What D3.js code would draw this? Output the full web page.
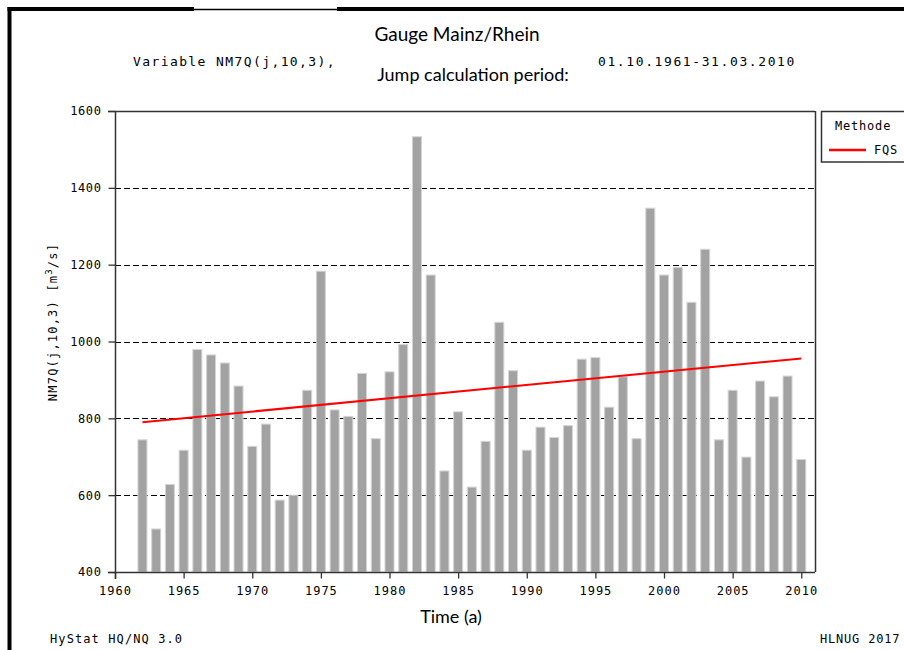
<!DOCTYPE html>
<html>
<head>
<meta charset="utf-8">
<script src="https://cdn.jsdelivr.net/npm/d3@7"></script>
<style>
  html, body { margin: 0; padding: 0; background: #fff; }
  svg { display: block; }
  .mono { font-family: "DejaVu Sans Mono", monospace; fill: #000; }
  .cal { font-family: Lato, "Open Sans", sans-serif; fill: #000; }
</style>
</head>
<body>
<svg id="chart" width="904" height="650"></svg>
<script>
// ---- data ----
const years = [1962,1963,1964,1965,1966,1967,1968,1969,1970,1971,1972,1973,1974,1975,1976,1977,1978,1979,1980,1981,
               1982,1983,1984,1985,1986,1987,1988,1989,1990,1991,1992,1993,1994,1995,1996,1997,1998,1999,2000,2001,
               2002,2003,2004,2005,2006,2007,2008,2009,2010];
const nm7q  = [744,512,628,717,979,965,944,884,727,785,587,600,873,1183,822,805,917,747,921,992,
               1533,1173,663,817,621,740,1050,924,717,777,750,781,954,958,829,908,747,1347,1173,1193,
               1102,1240,744,873,699,897,856,910,693];
const trendYears  = [1962, 2010];
const trendValues = [790, 956];
const xTicks = [1960,1965,1970,1975,1980,1985,1990,1995,2000,2005,2010];
const yTicks = [400,600,800,1000,1200,1400,1600];
const gridValues = [600,800,1000,1200,1400];
const legendLabel = "FQS";

// ---- layout ----
const svg = d3.select("#chart");
const L = 115, R = 815, T = 111, B = 572;
const x = d3.scaleLinear().domain([1960, 2011]).range([L, R]);
const y = d3.scaleLinear().domain([400, 1600]).range([B, T]);

// outer frame
svg.append("line").attr("x1", 9.5).attr("x2", 9.5).attr("y1", 7).attr("y2", 650)
  .attr("stroke", "#000").attr("stroke-width", 4);
svg.append("line").attr("x1", 7.5).attr("x2", 194).attr("y1", 9).attr("y2", 9)
  .attr("stroke", "#000").attr("stroke-width", 4);
svg.append("line").attr("x1", 194).attr("x2", 337).attr("y1", 9.5).attr("y2", 9.5)
  .attr("stroke", "#000").attr("stroke-width", 1.5);
svg.append("line").attr("x1", 337).attr("x2", 904).attr("y1", 9).attr("y2", 9)
  .attr("stroke", "#000").attr("stroke-width", 4);

// header texts
svg.append("text").attr("class", "cal").attr("x", 457).attr("y", 41)
  .attr("text-anchor", "middle").style("font-size", "19px").text("Gauge Mainz/Rhein");
svg.append("text").attr("class", "cal").attr("x", 473).attr("y", 81)
  .attr("text-anchor", "middle").style("font-size", "18px").text("Jump calculation period:");
svg.append("text").attr("class", "mono").attr("x", 133).attr("y", 66)
  .style("font-size", "13px").style("letter-spacing", "1.4px").text("Variable NM7Q(j,10,3),");
svg.append("text").attr("class", "mono").attr("x", 598).attr("y", 66)
  .style("font-size", "13px").style("letter-spacing", "1.6px").text("01.10.1961-31.03.2010");

// gridlines
svg.append("g").selectAll("line").data(gridValues).join("line")
  .attr("x1", L).attr("x2", R)
  .attr("y1", d => Math.round(y(d)) + 0.5).attr("y2", d => Math.round(y(d)) + 0.5)
  .attr("stroke", "#000").attr("stroke-width", 1).attr("stroke-dasharray", "6,3");

// bars
const bw = 9;
svg.append("g").selectAll("rect").data(years).join("rect")
  .attr("x", (d) => x(d) - bw / 2)
  .attr("y", (d, i) => y(nm7q[i]))
  .attr("width", bw)
  .attr("height", (d, i) => B - y(nm7q[i]))
  .attr("fill", "#a2a2a2")
  .attr("stroke", "#d4d4d4").attr("stroke-width", 1);

// trend line
svg.append("path")
  .datum(trendYears.map((d, i) => [d, trendValues[i]]))
  .attr("d", d3.line().x(d => x(d[0])).y(d => y(d[1])))
  .attr("fill", "none").attr("stroke", "#ff0000").attr("stroke-width", 2);

// plot frame (top and right)
svg.append("line").attr("x1", L - 7).attr("x2", R).attr("y1", T + 0.5).attr("y2", T + 0.5)
  .attr("stroke", "#333").attr("stroke-width", 1.5);
svg.append("line").attr("x1", R + 0.5).attr("x2", R + 0.5).attr("y1", T).attr("y2", B)
  .attr("stroke", "#333").attr("stroke-width", 1.5);

// axes
const xAxis = svg.append("g").attr("transform", `translate(0,${B + 0.5})`)
  .call(d3.axisBottom(x).tickValues(xTicks).tickFormat(d3.format("d")).tickSize(6).tickSizeOuter(0));
xAxis.select(".domain").attr("d", `M${L - 7},0H${R}`).attr("stroke", "#333").attr("stroke-width", 1.5);
xAxis.selectAll(".tick line").attr("stroke", "#333").attr("stroke-width", 1.3);
xAxis.selectAll(".tick text").attr("class", "mono").attr("dy", 0).attr("y", 22)
  .style("font-size", "12px").style("letter-spacing", "1px").attr("font-family", null);

const yAxis = svg.append("g").attr("transform", `translate(${L + 0.5},0)`)
  .call(d3.axisLeft(y).tickValues(yTicks).tickFormat(d3.format("d")).tickSize(7).tickSizeOuter(0));
yAxis.select(".domain").attr("d", `M0,${T}V${B + 7}`).attr("stroke", "#333").attr("stroke-width", 1.5);
yAxis.selectAll(".tick line").attr("stroke", "#333").attr("stroke-width", 1.3);
yAxis.selectAll(".tick text").attr("class", "mono").attr("x", -14)
  .style("font-size", "12px").style("letter-spacing", "0.6px").attr("font-family", null);
xAxis.attr("font-size", null); yAxis.attr("font-size", null);

// y axis title
const yt = svg.append("text").attr("class", "mono")
  .attr("transform", "translate(57,322) rotate(-90)")
  .attr("text-anchor", "middle").style("font-size", "12px").style("letter-spacing", "1.2px");
yt.append("tspan").text("NM7Q(j,10,3) [m");
yt.append("tspan").attr("dy", -5).style("font-size", "9px").text("3");
yt.append("tspan").attr("dy", 5).text("/s]");

// x axis title
svg.append("text").attr("class", "cal").attr("x", 451).attr("y", 623)
  .attr("text-anchor", "middle").style("font-size", "18px").text("Time (a)");

// footers
svg.append("text").attr("class", "mono").attr("x", 50).attr("y", 643)
  .style("font-size", "12px").style("letter-spacing", "1.1px").text("HyStat HQ/NQ 3.0");
svg.append("text").attr("class", "mono").attr("x", 820).attr("y", 643)
  .style("font-size", "12px").style("letter-spacing", "0.8px").text("HLNUG 2017");

// legend
const lg = svg.append("g");
lg.append("rect").attr("x", 821.5).attr("y", 111.5).attr("width", 100).attr("height", 50.5)
  .attr("fill", "#fff").attr("stroke", "#333").attr("stroke-width", 1.5);
lg.append("text").attr("class", "mono").attr("x", 835).attr("y", 130)
  .style("font-size", "12px").style("letter-spacing", "0.8px").text("Methode");
lg.append("line").attr("x1", 829).attr("x2", 866).attr("y1", 150).attr("y2", 150)
  .attr("stroke", "#ff0000").attr("stroke-width", 2.5);
lg.append("text").attr("class", "mono").attr("x", 874).attr("y", 154)
  .style("font-size", "12px").style("letter-spacing", "0.8px").text(legendLabel);
</script>
</body>
</html>
